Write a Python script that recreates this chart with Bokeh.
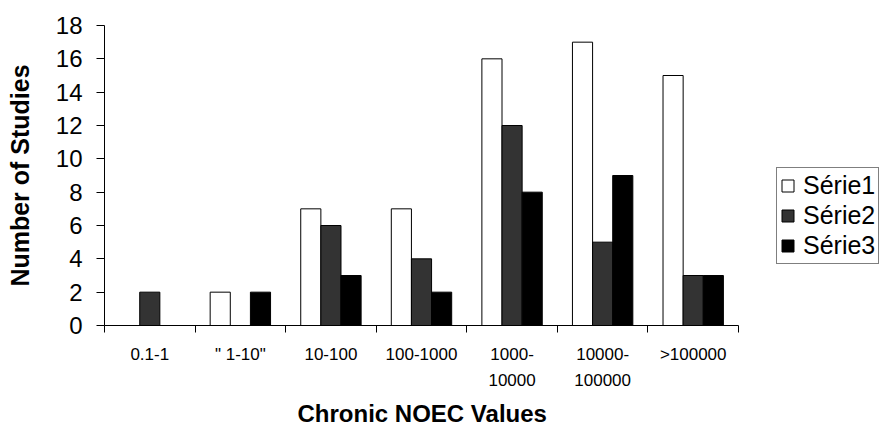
from bokeh.plotting import figure
from bokeh.models import ColumnDataSource, FixedTicker, Legend, LegendItem, Range1d, Title
from bokeh.transform import dodge
from bokeh.embed import file_html
from bokeh.resources import INLINE

# Chronic NOEC value classes and the number of studies in each series
categories = ["0.1-1", '" 1-10"', "10-100", "100-1000", "1000-\n10000", "10000-\n100000", ">100000"]
serie1 = [0, 2, 7, 7, 16, 17, 15]
serie2 = [2, 0, 6, 4, 12, 5, 3]
serie3 = [0, 2, 3, 2, 8, 9, 3]
y_ticks = list(range(0, 19, 2))

n_cat = len(categories)
centers = [i + 0.5 for i in range(n_cat)]
source = ColumnDataSource(dict(x=centers, s1=serie1, s2=serie2, s3=serie3))

# The frame runs to the right edge so the legend can sit beside the bars;
# the x axis itself is bounded to the category span.
left_px, axis_right_px, width = 104, 738, 888
x_end = n_cat * (width - left_px) / (axis_right_px - left_px)

p = figure(width=width, height=430, output_backend="svg", toolbar_location=None,
           x_range=Range1d(0, x_end), y_range=Range1d(0, 18),
           min_border_left=left_px, min_border_right=0, min_border_top=25,
           min_border_bottom=105)

bar_w = 1 / 4.5
fills = ["#ffffff", "#333333", "#000000"]
names = ["Série1", "Série2", "Série3"]
renderers = []
for k, (col, fill) in enumerate(zip(["s1", "s2", "s3"], fills)):
    r = p.vbar(x=dodge("x", (k - 1) * bar_w), top=col, width=bar_w, source=source,
               fill_color=fill, line_color="#000000", line_width=1)
    renderers.append(r)

p.xgrid.visible = False
p.ygrid.visible = False
p.outline_line_color = None
p.background_fill_color = "white"
p.border_fill_color = "white"

# x axis: labels at category centres, ticks at category boundaries
xa = p.xaxis[0]
xa.bounds = (0, n_cat)
xa.ticker = FixedTicker(ticks=centers, minor_ticks=list(range(n_cat + 1)))
xa.major_label_overrides = {c: lab for c, lab in zip(centers, categories)}
xa.major_tick_out = 0
xa.major_tick_in = 0
xa.minor_tick_out = 7
xa.minor_tick_in = 0
xa.minor_tick_line_color = "#000000"
xa.axis_line_color = "#000000"
xa.major_label_text_font = "Liberation Sans"
xa.major_label_text_font_size = "17px"
xa.major_label_text_color = "#000000"
xa.major_label_text_line_height = 1.4
xa.major_label_standoff = 12

# x axis title, centred under the category span
x_title = Title(text="Chronic NOEC Values", align="left", offset=193,
                text_font="Liberation Sans", text_font_style="bold",
                text_font_size="24px", text_color="#000000", standoff=8)
p.add_layout(x_title, "below")

ya = p.yaxis[0]
ya.ticker = FixedTicker(ticks=y_ticks, minor_ticks=[])
ya.major_tick_out = 8
ya.major_tick_in = 0
ya.axis_line_color = "#000000"
ya.major_tick_line_color = "#000000"
ya.major_label_text_font = "Liberation Sans"
ya.major_label_text_font_size = "24px"
ya.major_label_text_color = "#000000"
ya.major_label_standoff = 14
ya.axis_label = "Number of Studies"
ya.axis_label_text_font = "Liberation Sans"
ya.axis_label_text_font_style = "bold"
ya.axis_label_text_font_size = "25px"
ya.axis_label_text_color = "#000000"
ya.axis_label_standoff = 19

legend = Legend(items=[LegendItem(label=n, renderers=[r]) for n, r in zip(names, renderers)],
                location=(672, 61), orientation="vertical",
                label_text_font="Liberation Sans", label_text_font_size="25px",
                label_text_color="#000000", glyph_width=15, glyph_height=15,
                label_standoff=8, spacing=1, padding=3,
                border_line_color="#000000", border_line_width=1,
                background_fill_alpha=1.0)
p.add_layout(legend, "center")

open("out.html", "w").write(file_html(p, INLINE))
